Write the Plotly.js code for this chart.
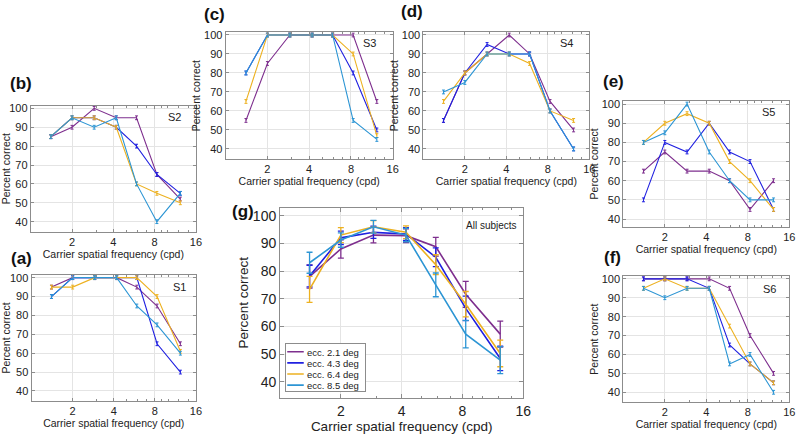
<!DOCTYPE html>
<html><head><meta charset="utf-8">
<script src="https://cdn.plot.ly/plotly-3.0.1.min.js"></script>
<style>html,body{margin:0;padding:0;background:#fff}#chart{width:798px;height:435px}</style>
</head><body><div id="chart"></div>
<script>
// Carrier spatial frequencies (cpd)
const freq = [1.4, 2.0, 2.9, 4.2, 5.9, 8.3, 12.3];
const eccLabels = ['ecc. 2.1 deg', 'ecc. 4.3 deg', 'ecc. 6.4 deg', 'ecc. 8.5 deg'];
const xTickVals = [2, 4, 8, 16];
const xTickText = ['2', '4', '8', '16'];
const yTickVals = [40, 50, 60, 70, 80, 90, 100];

// S1 (a)
const s1_ecc21 = [95, 100, 100, 100, 95, 85, 65];
const s1_ecc43 = [90, 100, 100, 100, 100, 65, 50];
const s1_ecc64 = [95, 95, 100, 100, 100, 90, 61];
const s1_ecc85 = [90, 100, 100, 100, 85, 75, 60];
// S2 (b)
const s2_ecc21 = [85, 90, 100, 95, 95, 65, 52];
const s2_ecc43 = [85, 95, 95, 90, 80, 65, 55];
const s2_ecc64 = [85, 95, 95, 90, 60, 55, 50];
const s2_ecc85 = [85, 95, 90, 95, 60, 40, 55];
// S3 (c)
const s3_ecc21 = [55, 85, 100, 100, 100, 100, 65];
const s3_ecc43 = [80, 100, 100, 100, 100, 80, 50];
const s3_ecc64 = [65, 100, 100, 100, 100, 90, 47];
const s3_ecc85 = [80, 100, 100, 100, 100, 55, 45];
// S4 (d)
const s4_ecc21 = [55, 80, 90, 100, 90, 65, 50];
const s4_ecc43 = [55, 80, 95, 90, 90, 60, 40];
const s4_ecc64 = [65, 80, 90, 90, 85, 60, 55];
const s4_ecc85 = [70, 75, 90, 90, 90, 60, 40];
// S5 (e)
const s5_ecc21 = [65, 75, 65, 65, 60, 45, 60];
const s5_ecc43 = [50, 80, 75, 90, 75, 70, 45];
const s5_ecc64 = [80, 90, 95, 90, 70, 60, 45];
const s5_ecc85 = [80, 85, 100, 75, 60, 50, 50];
// S6 (f)
const s6_ecc21 = [100, 100, 100, 100, 95, 70, 50];
const s6_ecc43 = [100, 100, 100, 95, 65, 55, 45];
const s6_ecc64 = [95, 100, 95, 95, 75, 55, 45];
const s6_ecc85 = [95, 90, 95, 95, 55, 60, 40];
// All subjects (g): means and error
const all_ecc21 = [78, 88, 93, 92.8, 88.8, 71.6, 57.2];
const all_ecc43 = [78.2, 92, 94, 93.4, 85, 66.5, 48.4];
const all_ecc64 = [73.4, 93, 96, 94, 82.3, 68, 50.2];
const all_ecc85 = [83, 91.2, 96, 93, 75, 57.2, 47.8];
const err_ecc21 = [4.2, 3.3, 2.8, 2.5, 3.4, 4.7, 4.7];
const err_ecc43 = [3.9, 2.4, 2.2, 2.3, 3.4, 4.4, 4.4];
const err_ecc64 = [4.7, 2.7, 2.2, 2.3, 3.6, 4.6, 4.8];
const err_ecc85 = [3.8, 2.6, 2.3, 2.4, 4.3, 5.0, 4.9];

const colors = ['#7E2F8E', '#2020e0', '#EDB120', '#2c95d4'];
const FONT = 'Liberation Sans, Arial, Helvetica, sans-serif';

const subjects = [
  {ax: 1, name: 'S1', data: [s1_ecc21, s1_ecc43, s1_ecc64, s1_ecc85]},
  {ax: 2, name: 'S2', data: [s2_ecc21, s2_ecc43, s2_ecc64, s2_ecc85]},
  {ax: 3, name: 'S3', data: [s3_ecc21, s3_ecc43, s3_ecc64, s3_ecc85]},
  {ax: 4, name: 'S4', data: [s4_ecc21, s4_ecc43, s4_ecc64, s4_ecc85]},
  {ax: 5, name: 'S5', data: [s5_ecc21, s5_ecc43, s5_ecc64, s5_ecc85]},
  {ax: 6, name: 'S6', data: [s6_ecc21, s6_ecc43, s6_ecc64, s6_ecc85]}
];
const allData = [all_ecc21, all_ecc43, all_ecc64, all_ecc85];
const allErr = [err_ecc21, err_ecc43, err_ecc64, err_ecc85];

const traces = [];
subjects.forEach(s => {
  s.data.forEach((vals, i) => {
    traces.push({
      x: freq, y: vals, type: 'scatter', mode: 'lines',
      xaxis: 'x' + (s.ax === 1 ? '' : s.ax), yaxis: 'y' + (s.ax === 1 ? '' : s.ax),
      line: {color: colors[i], width: 1.1},
      error_y: {type: 'constant', value: 1, color: colors[i], thickness: 1, width: 1.5},
      showlegend: false, hoverinfo: 'skip'
    });
  });
});
allData.forEach((vals, i) => {
  traces.push({
    x: freq, y: vals, type: 'scatter', mode: 'lines', name: eccLabels[i],
    xaxis: 'x7', yaxis: 'y7',
    line: {color: colors[i], width: 1.6},
    error_y: {type: 'data', array: allErr[i], color: colors[i], thickness: 1.3, width: 3},
    showlegend: true
  });
});

const domains = {
  1: {x: [0.0395, 0.2456], y: [0.0782, 0.3678], yr: [34.7, 101.4]},
  2: {x: [0.0385, 0.2456], y: [0.4674, 0.7570], yr: [34.7, 101.4]},
  3: {x: [0.2828, 0.4921], y: [0.6345, 0.9257], yr: [34.7, 101.4]},
  4: {x: [0.5305, 0.7385], y: [0.6345, 0.9257], yr: [34.7, 101.4]},
  5: {x: [0.7811, 0.9891], y: [0.4789, 0.7678], yr: [36.0, 101.6]},
  6: {x: [0.7811, 0.9891], y: [0.0752, 0.3655], yr: [34.7, 101.5]},
  7: {x: [0.3509, 0.6558], y: [0.0857, 0.5225], yr: [34.2, 102.9]}
};

const LEG_LEFT = 285, LEG_TOP = 343.3, LEG_BOTTOM = 390.7;
const layout = {
  width: 798, height: 435,
  margin: {l: 0, r: 0, t: 0, b: 0},
  paper_bgcolor: '#fff', plot_bgcolor: '#fff',
  font: {family: FONT, color: '#222'},
  showlegend: true,
  legend: {
    x: LEG_LEFT / 798, y: 1 - LEG_BOTTOM / 435, xanchor: 'left', yanchor: 'bottom',
    bgcolor: '#fff', bordercolor: '#8c8c8c', borderwidth: 1,
    font: {size: 9.5, family: FONT, color: '#222'}, tracegroupgap: 0
  },
  annotations: [],
  shapes: []
};

for (let k = 1; k <= 7; k++) {
  const big = k === 7;
  const sfx = k === 1 ? '' : k;
  const d = domains[k];
  layout['xaxis' + sfx] = {
    domain: d.x, anchor: 'y' + sfx, type: 'log',
    range: [0, Math.log10(16)], tickvals: xTickVals, ticktext: xTickText,
    ticks: 'inside', ticklen: big ? 4 : 3, tickcolor: '#8c8c8c',
    showline: true, mirror: 'allticks', linecolor: '#8c8c8c', linewidth: 1,
    showgrid: true, gridcolor: '#e4e4e4', zeroline: false,
    tickfont: {size: big ? 14 : 11, family: FONT, color: '#222'},
    title: {text: 'Carrier spatial frequency (cpd)', font: {size: big ? 13.5 : 10.5, family: FONT, color: '#222'}, standoff: 1},
    minor: {tickvals: [3, 5, 6, 7, 9, 10, 12, 14], ticks: 'inside', ticklen: 2, tickcolor: '#8c8c8c', showgrid: false},
    fixedrange: true
  };
  layout['yaxis' + sfx] = {
    domain: d.y, anchor: 'x' + sfx, range: d.yr, tickvals: yTickVals,
    ticks: 'inside', ticklen: big ? 4 : 3, tickcolor: '#8c8c8c',
    showline: true, mirror: 'allticks', linecolor: '#8c8c8c', linewidth: 1,
    showgrid: true, gridcolor: '#e4e4e4', zeroline: false,
    tickfont: {size: big ? 14 : 11, family: FONT, color: '#222'},
    title: {text: 'Percent correct', font: {size: big ? 13.5 : 10.5, family: FONT, color: '#222'}, standoff: 1},
    fixedrange: true
  };
}

// Panel letters
const panelLabels = [
  {t: '(a)', x: 21, y: 258}, {t: '(b)', x: 21, y: 84}, {t: '(c)', x: 214, y: 14},
  {t: '(d)', x: 412, y: 11}, {t: '(e)', x: 613, y: 82}, {t: '(f)', x: 612, y: 257},
  {t: '(g)', x: 243, y: 211}
];
panelLabels.forEach(p => layout.annotations.push({
  text: '<b>' + p.t + '</b>', xref: 'paper', yref: 'paper', x: p.x / 798, y: 1 - p.y / 435,
  xanchor: 'center', yanchor: 'middle', showarrow: false, font: {size: 17, family: FONT, color: '#111'}
}));
// Subject labels
const subjLabels = [
  {t: 'S1', x: 188, y: 287}, {t: 'S2', x: 183, y: 117}, {t: 'S3', x: 378, y: 43},
  {t: 'S4', x: 575, y: 43}, {t: 'S5', x: 777, y: 112}, {t: 'S6', x: 778, y: 289},
  {t: 'All subjects', x: 519, y: 225}
];
subjLabels.forEach(p => layout.annotations.push({
  text: p.t, xref: 'paper', yref: 'paper', x: p.x / 798, y: 1 - p.y / 435,
  xanchor: 'right', yanchor: 'middle', showarrow: false,
  font: {size: p.t.length > 2 ? 10 : 11, family: FONT, color: '#222'}
}));

const gd = document.getElementById('chart');
Plotly.newPlot(gd, traces, layout, {staticPlot: true, displayModeBar: false}).then(() => {
  // Compact the legend (the reference legend uses tight ~11px rows and short line samples)
  try {
    const leg = gd.querySelector('g.legend');
    if (!leg) return;
    const items = leg.querySelectorAll('g.traces');
    const rowH = 11.1, firstY = 8.5, textX = 21;
    let maxW = 0;
    items.forEach((el, i) => {
      const m = /translate\(\s*([-\d.]+)[ ,]+([-\d.]+)\s*\)/.exec(el.getAttribute('transform') || '');
      const tx = m ? parseFloat(m[1]) : 0;
      el.setAttribute('transform', 'translate(' + tx + ',' + (firstY + i * rowH) + ')');
      const layers = el.querySelector('g.layers');
      if (layers) layers.setAttribute('transform', 'translate(-1.5,0) scale(0.55,1)');
      const txt = el.querySelector('text.legendtext');
      if (txt) {
        txt.setAttribute('x', textX);
        txt.querySelectorAll('tspan').forEach(ts => { if (ts.getAttribute('x') !== null) ts.setAttribute('x', textX); });
        maxW = Math.max(maxW, tx + textX + txt.getBBox().width);
      }
    });
    const h = LEG_BOTTOM - LEG_TOP;
    const bg = leg.querySelector('rect.bg');
    if (bg) {
      bg.setAttribute('height', h);
      if (maxW > 0) bg.setAttribute('width', maxW + 6);
    }
    const m2 = /translate\(\s*([-\d.]+)[ ,]+([-\d.]+)\s*\)/.exec(leg.getAttribute('transform') || '');
    const lx = m2 ? parseFloat(m2[1]) : LEG_LEFT;
    leg.setAttribute('transform', 'translate(' + lx + ',' + LEG_TOP + ')');
  } catch (e) { /* keep default legend */ }
});
</script></body></html>
